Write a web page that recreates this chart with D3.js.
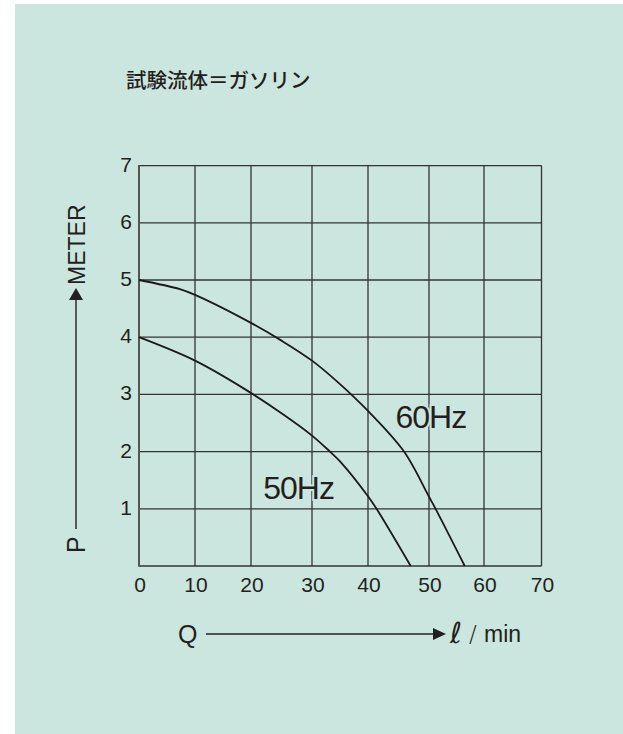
<!DOCTYPE html>
<html><head><meta charset="utf-8">
<script src="https://cdn.jsdelivr.net/npm/d3@7"></script>
<style>
html,body{margin:0;padding:0;background:#fff;}
svg{display:block;}
text{font-family:"Liberation Sans",Arial,sans-serif;fill:#231f20;}
</style></head>
<body>
<script>
// ---- data ----
const title = "試験流体＝ガソリン";
const xTicks = [0,10,20,30,40,50,60,70];
const yTicks = [1,2,3,4,5,6,7];
const seriesNames = ["60Hz","50Hz"];
const flow60 = [0, 7.3, 10, 20, 25, 30, 35, 40, 45.9, 50, 51.2, 56.5];
const head60 = [5, 4.84, 4.74, 4.25, 3.94, 3.59, 3.18, 2.71, 2.0, 1.21, 1.0, 0];
const flow50 = [0, 10, 18.6, 25, 30, 33.2, 35, 40, 41.4, 47];
const head50 = [4, 3.59, 3.11, 2.67, 2.28, 2.0, 1.83, 1.22, 1.0, 0];
const labelPos = [[44.5, 2.41],[22.0, 1.17]]; // label anchors in data units
const xAxisLabel = "Q", xUnitParts = ["ℓ","/","min"];
const yAxisLabel = "P", yUnit = "METER";

// ---- layout ----
const W = 623, H = 734;
const gridX = [139,195,251,312,368,429,484,541.5]; // printed grid is slightly uneven
const plotTop = 165.6, plotBottom = 566;
const bg = "#cbe6de", ink = "#231f20";

const svg = d3.select("body").append("svg").attr("width",W).attr("height",H);
svg.append("rect").attr("x",15).attr("y",4).attr("width",W-15).attr("height",H-4).attr("fill",bg);

const x = d3.scaleLinear().domain(xTicks).range(gridX);
const y = d3.scaleLinear().domain([0,7]).range([plotBottom,plotTop]);

// title
svg.append("text").attr("x",126).attr("y",88)
  .style("font-family",'"Noto Sans CJK JP",sans-serif').style("font-size","20.5px")
  .style("font-weight",500)
  .text(title);

// grid
const g = svg.append("g");
g.selectAll("line.v").data(xTicks).join("line")
  .attr("x1",d=>x(d)).attr("x2",d=>x(d)).attr("y1",y(0)).attr("y2",y(7))
  .attr("stroke","#333").attr("stroke-width",1.3);
g.selectAll("line.h").data([0].concat(yTicks)).join("line")
  .attr("x1",x(0)).attr("x2",x(70)).attr("y1",d=>y(d)).attr("y2",d=>y(d))
  .attr("stroke","#333").attr("stroke-width",1.3);
g.append("line").attr("x1",x(0)).attr("x2",x(0)).attr("y1",y(0)+0.7).attr("y2",y(7)-0.7)
  .attr("stroke","#555").attr("stroke-width",2);

// tick labels
svg.selectAll("text.xt").data(xTicks).join("text").attr("class","xt")
  .attr("x",d=>x(d)+1).attr("y",592).attr("text-anchor","middle")
  .style("font-size","21px").text(d=>d);
svg.selectAll("text.yt").data(yTicks).join("text").attr("class","yt")
  .attr("x",132).attr("y",d=>y(d)+6).attr("text-anchor","end")
  .style("font-size","21px").text(d=>d);

// curves
const line = d3.line().x(d=>x(d[0])).y(d=>y(d[1])).curve(d3.curveCatmullRom.alpha(0.5));
const s60 = flow60.map((f,i)=>[f,head60[i]]);
const s50 = flow50.map((f,i)=>[f,head50[i]]);
[s60,s50].forEach(s=>{
  svg.append("path").attr("d",line(s)).attr("fill","none")
    .attr("stroke","#1a1a1a").attr("stroke-width",1.8);
});

// series labels (with halo that breaks the grid)
svg.selectAll("text.sl").data(seriesNames).join("text").attr("class","sl")
  .attr("x",(d,i)=>x(labelPos[i][0])).attr("y",(d,i)=>y(labelPos[i][1]))
  .style("font-size","32px").style("letter-spacing","-1px")
  .attr("stroke",bg).attr("stroke-width",4).attr("paint-order","stroke")
  .text(d=>d);

// x axis label with arrow
svg.append("text").attr("x",178).attr("y",643).style("font-size","25px").text(xAxisLabel);
svg.append("line").attr("x1",206).attr("x2",436).attr("y1",634).attr("y2",634)
  .attr("stroke",ink).attr("stroke-width",1.4);
svg.append("path").attr("d","M433,628L446,634L433,640Z").attr("fill",ink);
svg.append("text").attr("x",450).attr("y",643).style("font-family",'"DejaVu Sans",sans-serif')
  .style("font-size","29px").text(xUnitParts[0]);
svg.append("text").attr("x",469).attr("y",642).style("font-family",'"DejaVu Sans",sans-serif')
  .style("font-size","23px").style("font-weight",300).text(xUnitParts[1]);
svg.append("text").attr("x",484).attr("y",642).style("font-size","23px").text(xUnitParts[2]);

// y axis label with arrow
svg.append("text").attr("transform","translate(85,553) rotate(-90)").style("font-size","25px").text(yAxisLabel);
svg.append("line").attr("x1",76).attr("x2",76).attr("y1",529).attr("y2",298)
  .attr("stroke",ink).attr("stroke-width",1.4);
svg.append("path").attr("d","M69,300L76,288L83,300Z").attr("fill",ink);
svg.append("text").attr("transform","translate(85,285) rotate(-90)").style("font-size","23px").text(yUnit);
</script>
</body></html>
